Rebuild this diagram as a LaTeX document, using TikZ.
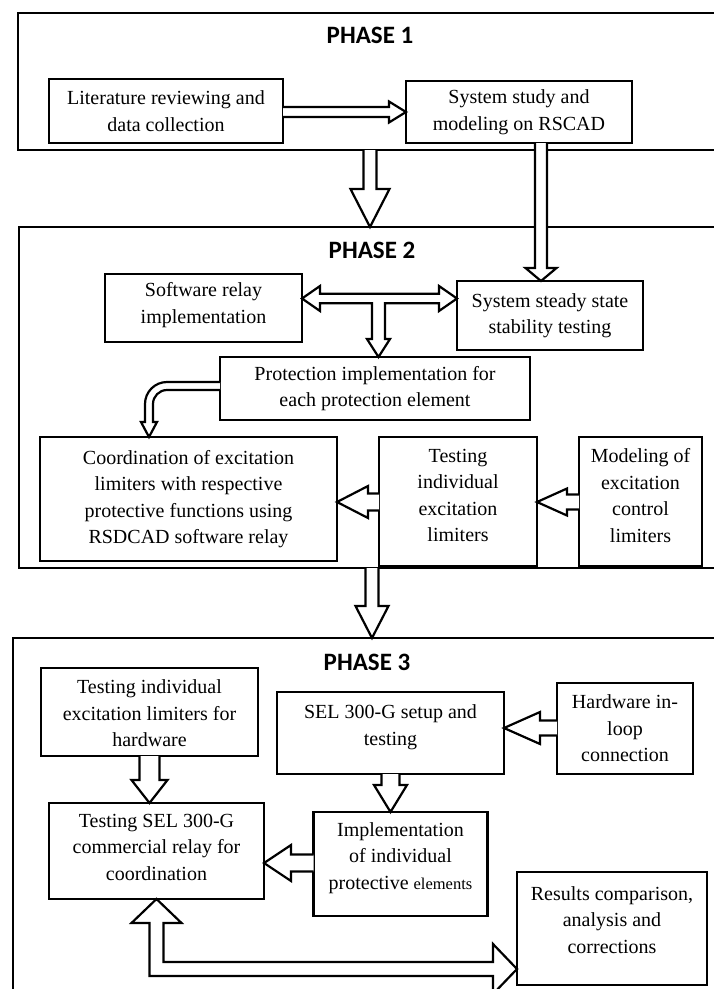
\documentclass[tikz,border=0pt]{standalone}
\usepackage{fontspec}
\setmainfont{Liberation Serif}
\newfontfamily\titlefont{Carlito}
\usetikzlibrary{calc}
\tikzset{
  frame/.style={draw, line width=2.6pt, inner sep=0pt, outer sep=0pt},
  box/.style={draw, line width=2.6pt, fill=white, inner sep=0pt, outer sep=0pt,
    align=center, font=\fontsize{20}{26.5}\selectfont},
  ttl/.style={font=\titlefont\bfseries\fontsize{25}{25}\selectfont, inner sep=0pt},
  arr/.style={draw, fill=white, line width=2.2pt, line join=miter, miter limit=10},
}
% text block raised by #1 without changing its measured size
\newcommand\Up[2]{\raisebox{#1}[\height][\depth]{\begin{tabular}{@{}c@{}}#2\end{tabular}}}
% hollow arrows: #1 start, #2 tip, #3 shaft half width, #4 head half width, #5 head length
\newcommand\ArrDown[5]{\path[arr] let \p1=(#1), \p2=(#2) in
  (\x2-#3pt,\y1) -- (\x2-#3pt,\y2+#5pt) -- (\x2-#4pt,\y2+#5pt) -- (\x2,\y2)
  -- (\x2+#4pt,\y2+#5pt) -- (\x2+#3pt,\y2+#5pt) -- (\x2+#3pt,\y1);}
\newcommand\ArrLeft[5]{\path[arr] let \p1=(#1), \p2=(#2) in
  (\x1,\y2+#3pt) -- (\x2+#5pt,\y2+#3pt) -- (\x2+#5pt,\y2+#4pt) -- (\x2,\y2)
  -- (\x2+#5pt,\y2-#4pt) -- (\x2+#5pt,\y2-#3pt) -- (\x1,\y2-#3pt);}
\newcommand\ArrRight[5]{\path[arr] let \p1=(#1), \p2=(#2) in
  (\x1,\y2+#3pt) -- (\x2-#5pt,\y2+#3pt) -- (\x2-#5pt,\y2+#4pt) -- (\x2,\y2)
  -- (\x2-#5pt,\y2-#4pt) -- (\x2-#5pt,\y2-#3pt) -- (\x1,\y2-#3pt);}
\begin{document}
\begin{tikzpicture}[x=1pt, y=-1pt]
\useasboundingbox (0,0) rectangle (713,989);
\fill[white] (0,0) rectangle (713,989);

% phase frames
\node[frame, minimum width=722pt, minimum height=137pt] (p1) at (379,81.5) {};
\node[frame, minimum width=721pt, minimum height=341pt] (p2) at (379.5,397.5) {};
\node[frame, minimum width=727pt, minimum height=372pt] (p3) at (376.5,824) {};
\node[ttl] (t1) at (370,35) {PHASE 1};
\node[ttl] (t2) at (372,250) {PHASE 2};
\node[ttl] (t3) at (367,662) {PHASE 3};

% phase 1
\node[box, minimum width=234pt, minimum height=64pt] (lit) at (166,111) {Literature reviewing and\\data collection};
\node[box, minimum width=226pt, minimum height=62pt] (sys) at (519,112) {System study and\\modeling on RSCAD};

% phase 2
\node[box, minimum width=197pt, minimum height=68pt] (soft) at (203.5,308) {\Up{3.5pt}{Software relay\\implementation}};
\node[box, minimum width=186pt, minimum height=69pt] (steady) at (550,315.5) {System steady state\\stability testing};
\node[box, minimum width=310pt, minimum height=63pt] (prot) at (375,388.5) {Protection implementation for\\each protection element};
\node[box, minimum width=297pt, minimum height=124pt] (coord) at (188.5,499) {Coordination of excitation\\limiters with respective\\protective functions using\\RSDCAD software relay};
\node[box, minimum width=158pt, minimum height=129pt] (test) at (458,501.5) {\Up{5pt}{Testing\\individual\\excitation\\limiters}};
\node[box, minimum width=123pt, minimum height=129pt] (model) at (640.5,501.5) {\Up{4.5pt}{Modeling of\\excitation\\control\\limiters}};

% phase 3
\node[box, minimum width=217pt, minimum height=88pt] (hwtest) at (149.5,712) {\Up{-3pt}{Testing individual\\excitation limiters for\\hardware}};
\node[box, minimum width=227pt, minimum height=82pt] (sel) at (390.5,733) {\Up{6.5pt}{SEL 300-G setup and\\testing}};
\node[box, minimum width=136pt, minimum height=91pt] (hil) at (625,728.5) {Hardware in-\\loop\\connection};
\node[box, minimum width=215pt, minimum height=96pt] (testsel) at (156.5,851) {\Up{2.5pt}{Testing SEL 300-G\\commercial relay for\\coordination}};
\node[box, minimum width=174pt, minimum height=104pt] (impl) at (400.5,864) {\Up{6.5pt}{Implementation\\of individual\\protective {\fontsize{16.5}{16.5}\selectfont elements}}};
\node[box, minimum width=190pt, minimum height=113pt] (results) at (612,928.5) {\Up{7pt}{Results comparison,\\analysis and\\corrections}};

% arrows phase 1
\ArrRight{lit.east}{sys.west}{5}{10.5}{17}
\ArrDown{t1 |- p1.south}{t1 |- p2.north}{6.5}{19.5}{38}
\ArrDown{sys.south}{$(steady.north west)+(84,0)$}{6}{15.5}{13}

% T arrow between software relay, steady state and protection
\path[arr] let \p1=($(soft.east)+(0,-9.5)$), \p2=(steady.west), \p3=($(prot.north)+(3.5,0)$) in
  (\x1,\y1) -- (\x1+18pt,\y1+12.5pt) -- (\x1+18pt,\y1+4.75pt) -- (\x2-18pt,\y1+4.75pt)
  -- (\x2-18pt,\y1+12.5pt) -- (\x2,\y1) -- (\x2-18pt,\y1-12.5pt) -- (\x2-18pt,\y1-4.75pt)
  -- (\x3+6.5pt,\y1-4.75pt) -- (\x3+6.5pt,\y3+18pt) -- (\x3+11.5pt,\y3+18pt) -- (\x3,\y3)
  -- (\x3-11.5pt,\y3+18pt) -- (\x3-6.5pt,\y3+18pt) -- (\x3-6.5pt,\y1-4.75pt)
  -- (\x1+18pt,\y1-4.75pt) -- (\x1+18pt,\y1-12.5pt) -- cycle;

% curved arrow protection -> coordination
\path[arr] let \p1=($(prot.west)+(0,-2.5)$), \p2=($(coord.north west)+(109,0)$) in
  (\x1,\y1+4pt) -- (\x2+18pt,\y1+4pt) arc[start angle=90, end angle=180, radius=22pt]
  -- (\x2-4pt,\y2+15pt) -- (\x2-8pt,\y2+15pt) -- (\x2,\y2) -- (\x2+8pt,\y2+15pt)
  -- (\x2+4pt,\y2+15pt) -- (\x2+4pt,\y1-18pt) arc[start angle=180, end angle=90, radius=14pt]
  -- (\x1,\y1-4pt);

\ArrLeft{test.west}{$(coord.east)+(0,3)$}{8.5}{16}{31}
\ArrLeft{model.west}{$(test.east)+(0,0.5)$}{7.5}{13.5}{30}
\ArrDown{t2 |- p2.south}{t2 |- p3.north}{6.5}{16.5}{32}

% phase 3 arrows
\ArrLeft{hil.west}{$(sel.east)+(0,-5)$}{7.5}{16}{36}
\ArrDown{sel.south}{sel.south |- impl.north}{9}{16.5}{27}
\ArrDown{hwtest.south}{hwtest.south |- testsel.north}{10}{18}{23}
\ArrLeft{impl.west}{$(testsel.east)+(0,12)$}{8.5}{18}{27}

% L-shaped double arrow testing SEL <-> results
\path[arr] let \p1=(testsel.south), \p2=($(results.west)+(0,40.5)$) in
  (\x1,\y1) -- (\x1+25pt,\y1-24pt) -- (\x1+7pt,\y1-24pt) -- (\x1+7pt,\y2+7pt)
  -- (\x2-24pt,\y2+7pt) -- (\x2-24pt,\y2+25pt) -- (\x2,\y2) -- (\x2-24pt,\y2-25pt)
  -- (\x2-24pt,\y2-7pt) -- (\x1-7pt,\y2-7pt) -- (\x1-7pt,\y1-24pt) -- (\x1-25pt,\y1-24pt) -- cycle;
\end{tikzpicture}
\end{document}
